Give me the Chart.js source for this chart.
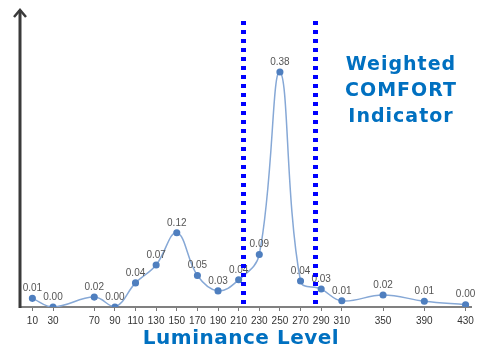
<!DOCTYPE html>
<html>
<head>
<meta charset="utf-8">
<script src="https://cdn.jsdelivr.net/npm/chart.js@4"></script>
<style>
html,body{margin:0;padding:0;background:#fff;}
#c{display:block;}
</style>
</head>
<body>
<canvas id="c" width="478" height="349"></canvas>
<script>
// ---- data ----
const luminance = [10, 30, 70, 90, 110, 130, 150, 170, 190, 210, 230, 250, 270, 290, 310, 350, 390, 430];
const comfort   = [0.014, 0.0, 0.016, 0.0, 0.039, 0.068, 0.12, 0.051, 0.026, 0.044, 0.085, 0.38, 0.042, 0.029, 0.010, 0.0195, 0.0093, 0.0037];
const valueLabels = ["0.01","0.00","0.02","0.00","0.04","0.07","0.12","0.05","0.03","0.04","0.09","0.38","0.04","0.03","0.01","0.02","0.01","0.00"];
const tickLabels = [10, 30, 70, 90, 110, 130, 150, 170, 190, 210, 230, 250, 270, 290, 310, 350, 390, 430];
const boundaries = [214, 284];
const titleLines = ["Weighted", "COMFORT", "Indicator"];
const axisTitle = "Luminance Level";

const overlay = {
  id: 'overlay',
  afterDatasetsDraw(chart) {
    const ctx = chart.ctx;
    const ca = chart.chartArea;
    const xs = chart.scales.x;
    // data labels
    const meta = chart.getDatasetMeta(0);
    ctx.save();
    ctx.font = '10px "Liberation Sans", Arial, sans-serif';
    ctx.fillStyle = '#555';
    ctx.textAlign = 'center';
    ctx.textBaseline = 'bottom';
    meta.data.forEach((pt, i) => {
      ctx.fillText(valueLabels[i], pt.x, pt.y - 5);
    });
    ctx.restore();
    // y axis with arrow
    ctx.save();
    ctx.strokeStyle = '#3a3a3a';
    ctx.lineWidth = 3;
    ctx.beginPath();
    ctx.moveTo(ca.left, ca.bottom + 1);
    ctx.lineTo(ca.left, 10);
    ctx.stroke();
    ctx.lineWidth = 2.5;
    ctx.beginPath();
    ctx.moveTo(ca.left - 6, 17);
    ctx.lineTo(ca.left, 10);
    ctx.lineTo(ca.left + 6, 17);
    ctx.stroke();
    ctx.restore();
    // dotted boundaries
    ctx.save();
    ctx.strokeStyle = '#0000ff';
    ctx.lineWidth = 5;
    ctx.setLineDash([4, 5]);
    boundaries.forEach(b => {
      const px = Math.round(xs.getPixelForValue(b)) + 0.5;
      ctx.beginPath();
      ctx.moveTo(px, 21);
      ctx.lineTo(px, ca.bottom);
      ctx.stroke();
    });
    ctx.restore();
    // titles
    ctx.save();
    ctx.fillStyle = '#0070c0';
    ctx.textAlign = 'center';
    ctx.textBaseline = 'middle';
    ctx.font = 'bold 19px "DejaVu Sans", Verdana, sans-serif';
    ctx.letterSpacing = '1px';
    titleLines.forEach((t, i) => ctx.fillText(t, 401, 65 + i * 26));
    ctx.font = 'bold 20px "DejaVu Sans", Verdana, sans-serif';
    ctx.letterSpacing = '0.5px';
    ctx.fillText(axisTitle, 241, 339);
    ctx.restore();
  }
};

new Chart(document.getElementById('c'), {
  type: 'line',
  data: {
    datasets: [{
      data: luminance.map((x, i) => ({x: x, y: comfort[i]})),
      borderColor: '#86a8d6',
      borderWidth: 1.5,
      pointBackgroundColor: '#4f7fbf',
      pointBorderColor: '#4f7fbf',
      pointRadius: 2.8,
      tension: 0.4,
      fill: false
    }]
  },
  options: {
    responsive: false,
    animation: false,
    plugins: { legend: {display: false}, tooltip: {enabled: false} },
    layout: { padding: { left: 20, right: 2, top: 12, bottom: 18 } },
    scales: {
      x: {
        type: 'linear',
        min: -2, max: 436,
        afterBuildTicks: (scale) => { scale.ticks = tickLabels.map(v => ({value: v})); },
        grid: { display: true, drawOnChartArea: false, drawTicks: true, tickLength: 4, color: '#777' },
        border: { display: true, color: '#808080', width: 2 },
        ticks: { autoSkip: false, maxRotation: 0, padding: 4, color: '#333',
                 font: { family: '"Liberation Sans", Arial, sans-serif', size: 10 },
                 callback: (v) => String(v) }
      },
      y: { display: false, min: 0, max: 0.477 }
    }
  },
  plugins: [overlay]
});
</script>
</body>
</html>
